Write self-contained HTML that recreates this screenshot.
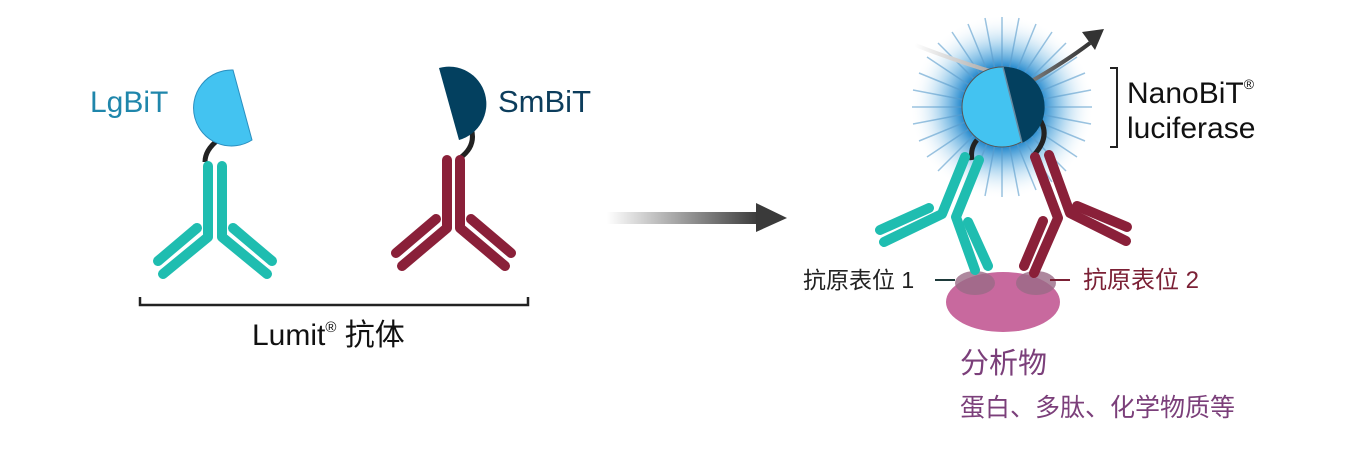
<!DOCTYPE html>
<html><head><meta charset="utf-8"><style>
html,body{margin:0;padding:0;background:#fff;}
svg{display:block;}
text{font-family:"Liberation Sans","Noto Sans CJK SC",sans-serif;}
</style></head><body>
<svg width="1359" height="476" viewBox="0 0 1359 476" xmlns="http://www.w3.org/2000/svg">
<defs>
<linearGradient id="ag" x1="0" x2="1" y1="0" y2="0">
<stop offset="0" stop-color="#fff"/><stop offset="1" stop-color="#3a3a3a"/></linearGradient>
<radialGradient id="glow" cx="0.5" cy="0.5" r="0.5">
<stop offset="0.45" stop-color="#2f8fd0" stop-opacity="1"/>
<stop offset="0.65" stop-color="#7cbde6" stop-opacity="0.7"/>
<stop offset="1" stop-color="#fff" stop-opacity="0"/></radialGradient>
<linearGradient id="cg" x1="0" x2="1" y1="0" y2="0">
<stop offset="0" stop-color="#fff"/><stop offset="0.6" stop-color="#888"/><stop offset="1" stop-color="#333"/></linearGradient>
</defs>

<!-- LgBiT -->
<path d="M218,140 Q205,150 205,162" stroke="#222" stroke-width="5" fill="none"/>
<path d="M233,70 L252,140 A38,38 0 1 1 233,70 Z" fill="#43c3f1" stroke="#2a8fc0" stroke-width="1"/>
<g stroke="#1fbdb0" stroke-width="10" stroke-linecap="round" stroke-linejoin="round" fill="none">
<polyline points="208,166 208,237 163,274"/>
<polyline points="222,166 222,237 267,274"/>
<line x1="197" y1="228" x2="158" y2="261"/>
<line x1="233" y1="228" x2="272" y2="261"/>
</g>
<text x="90" y="112" font-size="30" fill="#1f86ab">LgBiT</text>

<!-- SmBiT -->
<path d="M470,125 Q478,145 460,158" stroke="#222" stroke-width="5" fill="none"/>
<path d="M439,68 L459,140 A37,37 0 0 0 439,68 Z" fill="#03405f"/>
<g stroke="#8a2039" stroke-width="10" stroke-linecap="round" stroke-linejoin="round" fill="none">
<polyline points="447,160 447,228 402,266"/>
<polyline points="460,160 460,228 505,266"/>
<line x1="436" y1="219" x2="396" y2="253"/>
<line x1="471" y1="219" x2="511" y2="253"/>
</g>
<text x="498" y="112" font-size="31" fill="#0c3d5c">SmBiT</text>

<!-- bracket -->
<path d="M140,297 V305 H528 V297" stroke="#222" stroke-width="2.5" fill="none"/>
<text x="252" y="345" font-size="30" fill="#111">Lumit<tspan font-size="15" dy="-13">®</tspan><tspan dy="13"> 抗体</tspan></text>

<!-- arrow -->
<rect x="607" y="212" width="152" height="12" fill="url(#ag)"/>
<polygon points="756,203 787,218 756,232" fill="#3a3a3a"/>

<!-- glow -->
<circle cx="1002" cy="107" r="92" fill="url(#glow)"/>
<g stroke="#5a9ccc" stroke-width="1.5" opacity="0.6">
<line x1="1002" y1="17" x2="1002" y2="197"/><line x1="912" y1="107" x2="1092" y2="107"/>
<line x1="938" y1="43" x2="1066" y2="171"/><line x1="1066" y1="43" x2="938" y2="171"/>
<line x1="968" y1="24" x2="1036" y2="190"/><line x1="1036" y1="24" x2="968" y2="190"/>
<line x1="919" y1="73" x2="1085" y2="141"/><line x1="1085" y1="73" x2="919" y2="141"/>
<line x1="985" y1="18" x2="1019" y2="196"/><line x1="1019" y1="18" x2="985" y2="196"/>
<line x1="913" y1="90" x2="1091" y2="124"/><line x1="1091" y1="90" x2="913" y2="124"/>
<line x1="952" y1="32" x2="1052" y2="182"/><line x1="1052" y1="32" x2="952" y2="182"/>
<line x1="927" y1="57" x2="1077" y2="157"/><line x1="1077" y1="57" x2="927" y2="157"/>
</g>
<!-- curved arrow -->
<path d="M915,45 Q980,70 1030,82 Q1065,62 1090,43" stroke="url(#cg)" stroke-width="4" fill="none"/>
<polygon points="1082,32 1104,29 1095,50" fill="#333"/>

<!-- linkers -->
<path d="M977,140 Q970,148 972,160" stroke="#222" stroke-width="5" fill="none"/>
<path d="M1038,117 Q1052,135 1034,155" stroke="#222" stroke-width="5" fill="none"/>
<!-- circle -->
<circle cx="1002" cy="107" r="40" fill="#43c3f1" stroke="#555" stroke-width="1"/>
<path d="M1003,67 L1022,143 A40,40 0 0 0 1003,67 Z" fill="#03405f"/>
<line x1="1003" y1="67" x2="1022" y2="143" stroke="#6a8aa0" stroke-width="1.5"/>

<!-- analyte -->
<ellipse cx="1003" cy="302" rx="57" ry="30" fill="#c8699e"/>
<ellipse cx="975" cy="283" rx="20" ry="12" fill="#9a6a86" opacity="0.8"/>
<ellipse cx="1036" cy="283" rx="20" ry="12" fill="#9a6a86" opacity="0.8"/>

<!-- teal antibody -->
<g stroke="#1fbdb0" stroke-width="10" stroke-linecap="round" stroke-linejoin="round" fill="none">
<polyline points="965,157 942,214 884,242"/>
<polyline points="979,160 956,217 975,270"/>
<line x1="929" y1="208" x2="880" y2="230"/>
<line x1="968" y1="222" x2="988" y2="266"/>
</g>
<!-- red antibody -->
<g stroke="#8a2039" stroke-width="10" stroke-linecap="round" stroke-linejoin="round" fill="none">
<polyline points="1049,155 1070,213 1126,241"/>
<polyline points="1035,157 1058,218 1034,273"/>
<line x1="1077" y1="206" x2="1127" y2="227"/>
<line x1="1043" y1="221" x2="1024" y2="266"/>
</g>

<text x="803" y="288" font-size="23" fill="#222">抗原表位 1</text>
<line x1="935" y1="280" x2="955" y2="280" stroke="#1e3a3a" stroke-width="2"/>
<line x1="1050" y1="280" x2="1070" y2="280" stroke="#7b2035" stroke-width="2"/>
<text x="1083" y="288" font-size="24" fill="#7b2035">抗原表位 2</text>
<text x="960" y="373" font-size="29" fill="#7b3f7a">分析物</text>
<text x="960" y="416" font-size="25" fill="#7b3f7a">蛋白、多肽、化学物质等</text>

<path d="M1110,68 H1117 V147 H1110" stroke="#222" stroke-width="2" fill="none"/>
<text x="1127" y="103" font-size="30" fill="#111">NanoBiT<tspan font-size="14" dy="-14">®</tspan></text>
<text x="1127" y="138" font-size="30" fill="#111">luciferase</text>
</svg>
</body></html>
